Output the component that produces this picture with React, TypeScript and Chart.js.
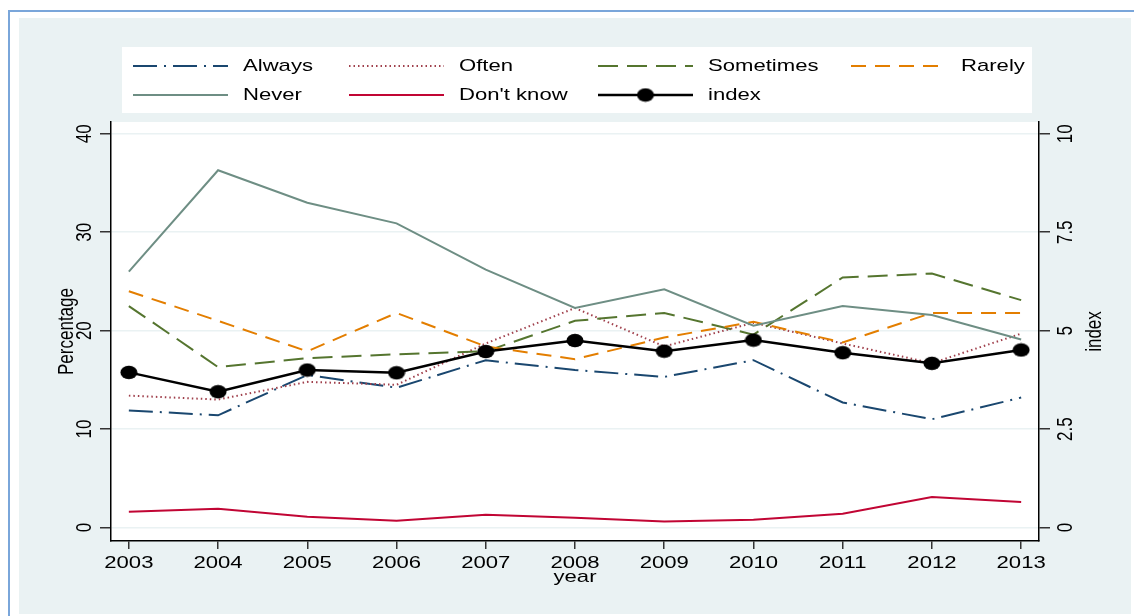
import { useEffect, useRef } from "react";
import { Chart, registerables } from "chart.js";
import type { Plugin as ChartPlugin } from "chart.js";

Chart.register(...registerables);

// values
const years = [2003, 2004, 2005, 2006, 2007, 2008, 2009, 2010, 2011, 2012, 2013];
const always = [11.9, 11.4, 15.5, 14.2, 17.0, 16.0, 15.3, 17.0, 12.7, 11.0, 13.2];
const often = [13.4, 13.0, 14.8, 14.5, 18.7, 22.3, 18.4, 20.8, 18.7, 16.7, 19.7];
const sometimes = [22.5, 16.3, 17.2, 17.6, 17.9, 21.0, 21.8, 19.6, 25.4, 25.8, 23.1];
const rarely = [24.0, 21.0, 17.9, 21.8, 18.4, 17.1, 19.3, 20.9, 18.8, 21.8, 21.8];
const never = [26.0, 36.3, 33.0, 30.9, 26.2, 22.3, 24.2, 20.5, 22.5, 21.6, 19.1];
const dontKnow = [1.6, 1.9, 1.1, 0.7, 1.3, 1.0, 0.6, 0.8, 1.4, 3.1, 2.6];
const indexValues = [3.94, 3.45, 4.0, 3.93, 4.47, 4.75, 4.48, 4.76, 4.44, 4.17, 4.51];

const percentTicks = [0, 10, 20, 30, 40];
const indexTicks = [0, 2.5, 5, 7.5, 10];
const indexTickLabels = ["0", "2.5", "5", "7.5", "10"];

const W = 1134;
const H = 616;
const FONT = '17px "Liberation Sans", Arial, sans-serif';
const SX = 1.3; // the original graph is stretched sideways

function wideText(ctx: CanvasRenderingContext2D, text: string, x: number, y: number, align: CanvasTextAlign, rotate = false) {
    ctx.save();
    ctx.translate(x, y);
    ctx.scale(SX, 1);
    if (rotate) ctx.rotate(-Math.PI / 2);
    ctx.font = FONT;
    ctx.fillStyle = "#000";
    ctx.textAlign = align;
    ctx.textBaseline = "middle";
    ctx.fillText(text, 0, 0);
    ctx.restore();
}

function makeMarker(): HTMLCanvasElement {
    const c = document.createElement("canvas");
    c.width = 18;
    c.height = 15;
    const ctx = c.getContext("2d")!;
    ctx.fillStyle = "#000";
    ctx.beginPath();
    ctx.ellipse(9, 7.5, 8.5, 6.8, 0, 0, Math.PI * 2);
    ctx.fill();
    return c;
}

const backgroundPlugin: ChartPlugin = {
    id: "stataBackground",
    beforeDraw: (chart: Chart) => {
        const ctx = chart.ctx;
        const a = chart.chartArea;
        ctx.save();
        ctx.fillStyle = "#ffffff";
        ctx.fillRect(0, 0, W, H);
        ctx.fillStyle = "#eaf2f3";
        ctx.fillRect(19, 18, 1112, 596);
        ctx.strokeStyle = "#7aa6da";
        ctx.lineWidth = 2;
        ctx.beginPath();
        ctx.moveTo(9, H);
        ctx.lineTo(9, 11);
        ctx.lineTo(W, 11);
        ctx.stroke();
        ctx.fillStyle = "#ffffff";
        ctx.fillRect(a.left, a.top, a.right - a.left, a.bottom - a.top);
        ctx.fillRect(122, 47, 910, 66);
        ctx.restore();
    },
};

// legend slots: [dataset label, symbol left x, row y]
const legendSlots: [string, number, number][] = [
    ["Always", 133, 66],
    ["Often", 349, 66],
    ["Sometimes", 598, 66],
    ["Rarely", 851, 66],
    ["Never", 133, 95],
    ["Don't know", 349, 95],
    ["index", 598, 95],
];

const textPlugin: ChartPlugin = {
    id: "stataText",
    afterDraw: (chart: Chart) => {
        const ctx = chart.ctx;
        const a = chart.chartArea;
        const datasets = chart.data.datasets as any[];

        // legend
        for (const [label, x0, y] of legendSlots) {
            const ds = datasets.find((d) => d.label === label);
            if (!ds) continue;
            ctx.save();
            ctx.strokeStyle = ds.borderColor;
            ctx.lineWidth = ds.borderWidth;
            ctx.setLineDash(ds.borderDash || []);
            ctx.beginPath();
            ctx.moveTo(x0, y);
            ctx.lineTo(x0 + 95, y);
            ctx.stroke();
            if (ds.pointStyle && typeof ds.pointStyle === "object") {
                const m = ds.pointStyle as HTMLCanvasElement;
                ctx.drawImage(m, x0 + 47.5 - m.width / 2, y - m.height / 2);
            }
            ctx.restore();
            wideText(ctx, label, x0 + 110, y, "left");
        }

        // x tick labels and title
        const xs = chart.scales.x;
        for (const yr of years) {
            wideText(ctx, String(yr), xs.getPixelForValue(yr), 563.5, "center");
        }
        wideText(ctx, "year", (a.left + a.right) / 2, 577, "center");

        // left axis
        const yl = chart.scales.y;
        for (const v of percentTicks) {
            wideText(ctx, String(v), 85, yl.getPixelForValue(v), "center", true);
        }
        wideText(ctx, "Percentage", 67, (a.top + a.bottom) / 2, "center", true);

        // right axis
        const yr2 = chart.scales.y2;
        indexTicks.forEach((v, i) => {
            wideText(ctx, indexTickLabels[i], 1066, yr2.getPixelForValue(v), "center", true);
        });
        wideText(ctx, "index", 1095, (a.top + a.bottom) / 2, "center", true);
    },
};

function series(values: number[]) {
    return values.map((v, i) => ({ x: years[i], y: v }));
}

export default function App() {
    const canvasRef = useRef<HTMLCanvasElement>(null);

    useEffect(() => {
        if (!canvasRef.current) return;
        const marker = makeMarker();
        const line = { pointRadius: 0, tension: 0, fill: false, yAxisID: "y" };
        const chart = new Chart(canvasRef.current, {
            type: "line",
            data: {
                datasets: [
                    { ...line, label: "Always", data: series(always), borderColor: "#1a476f", borderWidth: 2, borderDash: [24, 7, 2, 7], order: 6 },
                    { ...line, label: "Often", data: series(often), borderColor: "#a0404c", borderWidth: 2, borderDash: [1.5, 3], order: 5 },
                    { ...line, label: "Sometimes", data: series(sometimes), borderColor: "#55752f", borderWidth: 2, borderDash: [20, 9], order: 4 },
                    { ...line, label: "Rarely", data: series(rarely), borderColor: "#e37e00", borderWidth: 2, borderDash: [15, 9], order: 3 },
                    { ...line, label: "Never", data: series(never), borderColor: "#6e8e84", borderWidth: 2, order: 2 },
                    { ...line, label: "Don't know", data: series(dontKnow), borderColor: "#c10534", borderWidth: 2, order: 1 },
                    {
                        label: "index", data: series(indexValues), yAxisID: "y2", borderColor: "#000", backgroundColor: "#000",
                        borderWidth: 2.5, tension: 0, fill: false, pointStyle: marker, pointRadius: 7, order: 0,
                    },
                ] as any,
            },
            options: {
                animation: false,
                responsive: false,
                events: [],
                layout: { padding: { left: 50, right: 34, top: 122, bottom: 30 } },
                plugins: { legend: { display: false }, tooltip: { enabled: false } },
                scales: {
                    x: {
                        type: "linear",
                        min: 2002.8,
                        max: 2013.2,
                        afterBuildTicks: (s: any) => { s.ticks = years.map((v) => ({ value: v })); },
                        afterFit: (s: any) => { s.height = 45; },
                        ticks: { display: false },
                        grid: { drawOnChartArea: false, drawTicks: true, tickLength: 8, tickColor: "#333", lineWidth: 1.5 },
                        border: { color: "#000", width: 1.5 },
                    },
                    y: {
                        type: "linear",
                        position: "left",
                        min: -1.37,
                        max: 41.2,
                        afterBuildTicks: (s: any) => { s.ticks = percentTicks.map((v) => ({ value: v })); },
                        afterFit: (s: any) => { s.width = 61; },
                        ticks: { display: false },
                        grid: { color: "#eaf2f3", lineWidth: 1.5, tickColor: "#333", tickLength: 11 },
                        border: { color: "#000", width: 1.5 },
                    },
                    y2: {
                        type: "linear",
                        position: "right",
                        min: -0.3425,
                        max: 10.3,
                        afterBuildTicks: (s: any) => { s.ticks = indexTicks.map((v) => ({ value: v })); },
                        afterFit: (s: any) => { s.width = 61; },
                        ticks: { display: false },
                        grid: { drawOnChartArea: false, lineWidth: 1.5, tickColor: "#333", tickLength: 11 },
                        border: { color: "#000", width: 1.5 },
                    },
                },
            },
            plugins: [backgroundPlugin, textPlugin],
        });

        return () => {
            chart.destroy();
        };
    }, []);

    return (
        <div style={{ position: "absolute", left: 0, top: 0, width: W, height: H }}>
            <canvas ref={canvasRef} width={W} height={H} style={{ display: "block", width: W, height: H }} />
        </div>
    );
}
